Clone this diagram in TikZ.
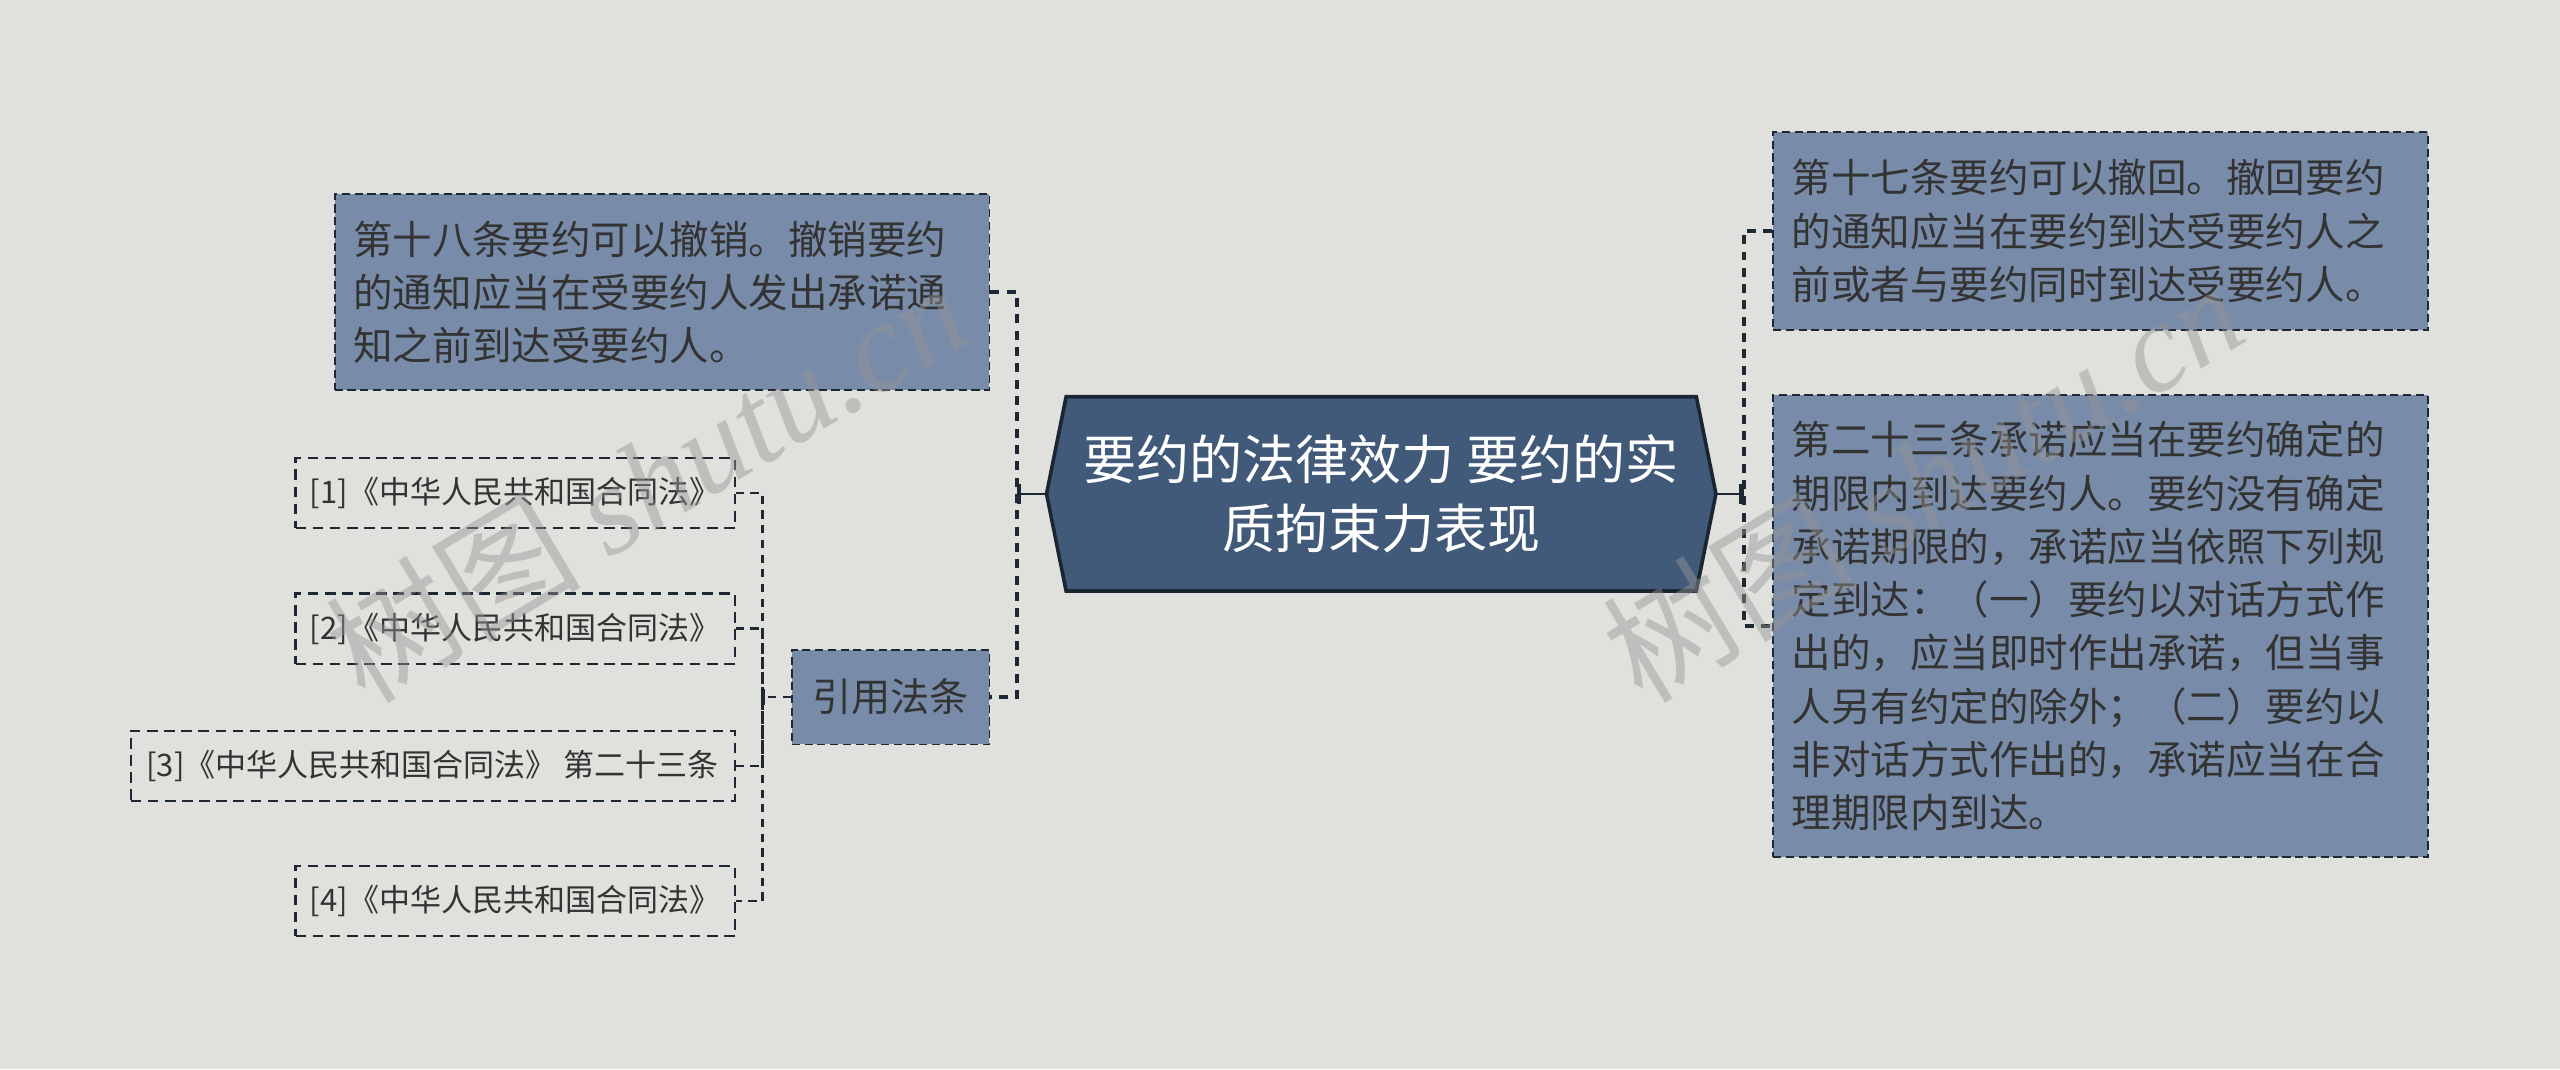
\documentclass[tikz,border=0pt]{standalone}
\usepackage{fontspec}
\setmainfont{Noto Sans CJK SC}
\newfontfamily\wmlat{Liberation Serif}
\usetikzlibrary{arrows.meta,calc}
\definecolor{bgc}{RGB}{224,225,220}
\definecolor{boxc}{RGB}{120,139,168}
\definecolor{rootc}{RGB}{66,90,121}
\definecolor{rootline}{RGB}{28,37,50}
\definecolor{linec}{RGB}{30,40,53}
\definecolor{txtc}{RGB}{51,51,51}
\definecolor{wmc}{RGB}{150,150,150}
\begin{document}
\begin{tikzpicture}[x=1pt,y=-1pt,
  topicbox/.style={draw=linec, line width=1.1pt, dash pattern=on 5pt off 2.8pt, fill=boxc, text=txtc,
    font=\fontsize{24.2}{32.6}\selectfont, align=left, text width=378pt, inner xsep=11.5pt, inner ysep=0pt},
  citebox/.style={draw=linec, line width=1.3pt, dash pattern=on 6.5pt off 4pt, text=txtc,
    font=\fontsize{19}{24}\selectfont, inner sep=0pt, minimum height=43pt},
  linkbox/.style={draw=linec, line width=1.1pt, dash pattern=on 5pt off 2.8pt, fill=boxc, text=txtc,
    font=\fontsize{24}{30}\selectfont, inner sep=0pt, minimum width=121pt, minimum height=58pt},
  roottext/.style={text=white, font=\fontsize{32.5}{42}\selectfont, align=center, inner sep=0pt,
    minimum width=386pt, minimum height=119pt},
  conn/.style={draw=linec, line width=2.3pt, dash pattern=on 5.5pt off 4.5pt},
  conn2/.style={draw=linec, line width=1.4pt, dash pattern=on 5pt off 4pt},
  stub/.style={draw=linec, line width=1.6pt},
  wm/.style={text=wmc, opacity=0.45, font=\fontsize{78}{78}\selectfont, rotate=31, anchor=base west, inner sep=0pt}
]
\useasboundingbox (0,0) rectangle (1568,655);
\fill[bgc] (0,0) rectangle (1568,655);

% root hexagon
\filldraw[fill=rootc, draw=rootline, line width=2.2pt, line join=miter]
  (653,243) -- (1039,243) -- (1051,302.5) -- (1039,362) -- (653,362) -- (641,302.5) -- cycle;
\node[roottext] (root) at (846,302.5) {要约的法律效力 要约的实\\质拘束力表现};

% topic boxes
\node[topicbox, minimum height=120pt] (b18) at (405.5,179)
  {第十八条要约可以撤销。撤销要约\\的通知应当在受要约人发出承诺通\\知之前到达受要约人。};
\node[topicbox, minimum height=121pt] (b17) at (1286.5,141.5)
  {第十七条要约可以撤回。撤回要约\\的通知应当在要约到达受要约人之\\前或者与要约同时到达受要约人。};
\node[topicbox, minimum height=283pt] (b23) at (1286.5,383.5)
  {第二十三条承诺应当在要约确定的\\期限内到达要约人。要约没有确定\\承诺期限的，承诺应当依照下列规\\定到达：（一）要约以对话方式作\\出的，应当即时作出承诺，但当事\\人另有约定的除外；（二）要约以\\非对话方式作出的，承诺应当在合\\理期限内到达。};
\node[linkbox] (yy) at (545.5,427) {引用法条};

% citations
\node[citebox, minimum width=269pt] (c1) at (315.5,302) {[1]《中华人民共和国合同法》};
\node[citebox, minimum width=269pt] (c2) at (315.5,385) {[2]《中华人民共和国合同法》};
\node[citebox, minimum width=370pt] (c3) at (265,469) {[3]《中华人民共和国合同法》 第二十三条};
\node[citebox, minimum width=269pt] (c4) at (315.5,552) {[4]《中华人民共和国合同法》};

% junctions
\coordinate (jl) at (623,302.5);
\coordinate (jr) at (1068,302.5);
\coordinate (jc) at (467,427);
\coordinate (rl) at (641,302.5);
\coordinate (rr) at (1051,302.5);

% connectors
\draw[conn] (b18.east) -| (jl) |- (yy.east);
\draw[conn] (b17.west) -| (jr) |- (b23.west);
\draw[stub, -{Bar[width=12pt,line width=2.6pt]}] (rl) -- (jl);
\draw[stub, -{Bar[width=12pt,line width=2.6pt]}] (rr) -- (jr);

\draw[conn2] (c1.east) -| (jc) |- (c4.east);
\draw[conn2] (c2.east) -| (jc);
\draw[conn2] (c3.east) -| (jc);
\draw[conn2, -{Bar[width=10pt,line width=1.6pt]}] (yy.west) -- (jc);

% watermarks
\node[wm] (wm1) at (224,432) {树图 {\wmlat\itshape shutu.cn}};
\node[wm] (wm2) at (1006,432) {树图 {\wmlat\itshape shutu.cn}};
\end{tikzpicture}
\end{document}
